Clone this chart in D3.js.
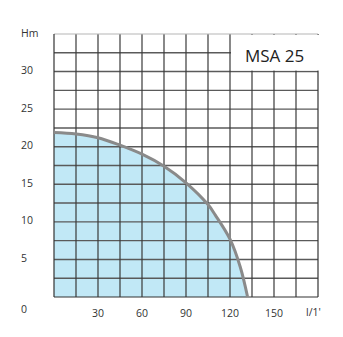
<!DOCTYPE html>
<html><head><meta charset="utf-8">
<script src="https://cdn.jsdelivr.net/npm/d3@7"></script>
<style>body{margin:0;background:#fff}svg{display:block}text{font-family:"Open Sans",sans-serif;fill:#333}</style>
</head><body><svg id="c" width="343" height="337"></svg>
<script>
const flow = [0, 15, 30, 45, 60, 75, 90, 105, 110, 120, 127, 132];
const head = [21.9, 21.7, 21.2, 20.2, 19.0, 17.4, 15.2, 12.3, 10.9, 7.7, 4.0, 0];
const xTickLabels = [30, 60, 90, 120, 150];
const yTickLabels = [5, 10, 15, 20, 25, 30];
const xUnit = "l/1'", yUnit = "Hm", title = "MSA 25";

const svg = d3.select("#c");
const x = d3.scaleLinear().domain([0, 180]).range([54, 318]);
const y = d3.scaleLinear().domain([0, 35]).range([297, 34]);
const pts = flow.map((q, i) => [q, head[i]]);
const crv = d3.curveCatmullRom.alpha(0.5);

// fill
svg.append("path")
  .attr("d", d3.area().x(d => x(d[0])).y0(y(0)).y1(d => y(d[1])).curve(crv)(pts))
  .attr("fill", "#c1e8f6");

// grid
const xg = d3.range(15, 180, 15), yg = d3.range(2.5, 35, 2.5);
svg.append("g").selectAll("line").data(yg).join("line")
  .attr("x1", x(0)).attr("x2", x(180)).attr("y1", d => y(d)).attr("y2", d => y(d))
  .attr("stroke", "#5a5a5a").attr("stroke-width", 1.4);
svg.append("g").selectAll("line").data(xg).join("line")
  .attr("y1", y(0)).attr("y2", y(35)).attr("x1", d => x(d)).attr("x2", d => x(d))
  .attr("stroke", "#3a3a3a").attr("stroke-width", 1.2);
svg.append("line").attr("x1", x(180)).attr("x2", x(180)).attr("y1", y(0)).attr("y2", y(35)).attr("stroke", "#333").attr("stroke-width", 1.2);

// title box
svg.append("rect").attr("x", x(120) + 1).attr("y", y(35) + 1)
  .attr("width", x(180) - x(120) + 2).attr("height", y(30) - y(35) - 2).attr("fill", "#fff");
// top line (light)
svg.append("line").attr("x1", x(0)).attr("x2", x(180)).attr("y1", y(35)).attr("y2", y(35)).attr("stroke", "#b5b5b5").attr("stroke-width", 1.2);
// axes
svg.append("line").attr("x1", x(0)).attr("x2", x(0)).attr("y1", y(0)).attr("y2", y(35)).attr("stroke", "#333").attr("stroke-width", 1.2);
svg.append("line").attr("x1", x(0)).attr("x2", x(180)).attr("y1", y(0)).attr("y2", y(0)).attr("stroke", "#333").attr("stroke-width", 1.2);

// curve
svg.append("path")
  .attr("d", d3.line().x(d => x(d[0])).y(d => y(d[1])).curve(crv)(pts))
  .attr("fill", "none").attr("stroke", "#8a8a8a").attr("stroke-width", 3);

svg.append("text").attr("x", (x(120) + x(180)) / 2 + 0.5).attr("y", 62)
  .attr("text-anchor", "middle").attr("font-size", 17).style("fill", "#222").text(title);

// y labels
svg.append("g").selectAll("text").data(yTickLabels).join("text")
  .attr("x", 21).attr("y", d => y(d) + 2.5).attr("font-size", 10.5).text(d => d);
svg.append("text").attr("x", 21).attr("y", 37).attr("font-size", 10.5).text(yUnit);
svg.append("text").attr("x", 21).attr("y", 313).attr("font-size", 10.5).text("0");
// x labels
svg.append("g").selectAll("text").data(xTickLabels).join("text")
  .attr("x", d => x(d)).attr("y", 316.5).attr("text-anchor", "middle").attr("font-size", 10.5).text(d => d);
svg.append("text").attr("x", 306).attr("y", 315.5).attr("font-size", 10.5).text(xUnit);
</script></body></html>
